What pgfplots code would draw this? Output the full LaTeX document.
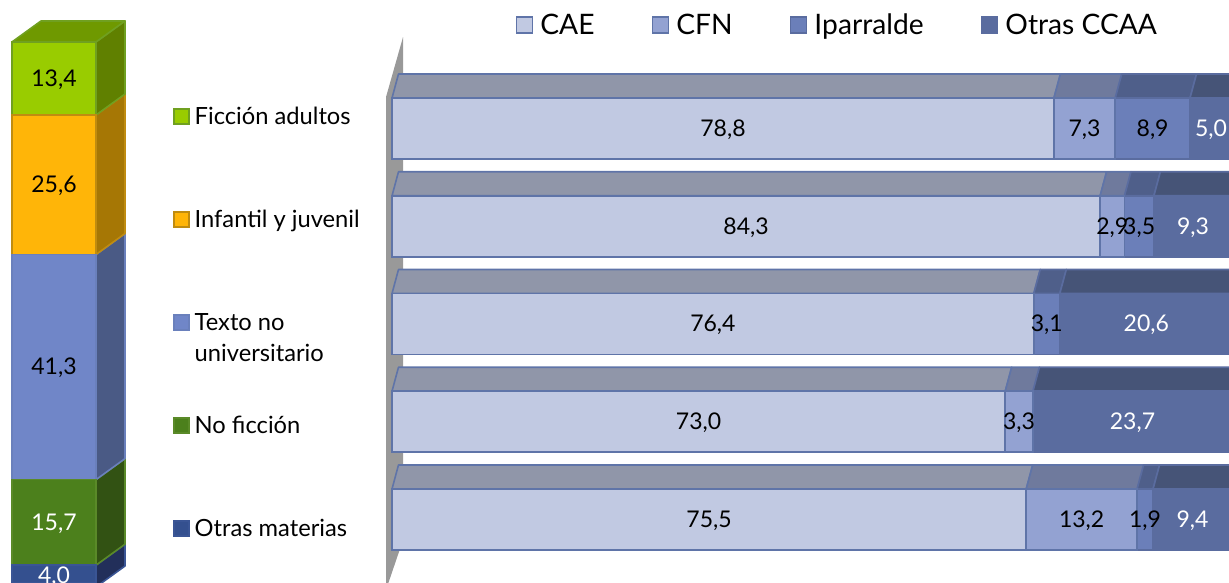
\documentclass[border=0pt]{standalone}
\usepackage{pgfplots}
\usepackage{pgfplotstable}
\usepackage{fontspec}
\pgfplotsset{compat=1.18}
\setmainfont{Lato}
% right-hand chart colours
\definecolor{caeF}{HTML}{C1C9E2}\definecolor{caeT}{HTML}{9096A9}\definecolor{caeL}{HTML}{5F74A8}
\definecolor{cfnF}{HTML}{93A2D2}\definecolor{cfnT}{HTML}{6F7A9D}\definecolor{cfnL}{HTML}{5F74A8}
\definecolor{ipaF}{HTML}{6B7FB9}\definecolor{ipaT}{HTML}{4F5F8A}\definecolor{ipaL}{HTML}{5A6C9F}
\definecolor{otrF}{HTML}{5A6C9F}\definecolor{otrT}{HTML}{465477}\definecolor{otrL}{HTML}{5A6C9F}
\definecolor{wallc}{HTML}{999999}
% left-hand chart colours
\definecolor{ficF}{HTML}{99CC00}\definecolor{ficS}{HTML}{608000}\definecolor{ficT}{HTML}{6F9900}\definecolor{ficL}{HTML}{70A020}
\definecolor{infF}{HTML}{FFB508}\definecolor{infS}{HTML}{A67705}\definecolor{infL}{HTML}{C08C10}
\definecolor{texF}{HTML}{7086C8}\definecolor{texS}{HTML}{4A5A85}\definecolor{texL}{HTML}{6A80BC}
\definecolor{nofF}{HTML}{4C801C}\definecolor{nofS}{HTML}{325213}\definecolor{nofL}{HTML}{5A8A28}
\definecolor{otmF}{HTML}{34508F}\definecolor{otmS}{HTML}{222F5A}\definecolor{otmL}{HTML}{3A5595}

\pgfplotstableread{
pos CAE CFN Ipa Otr
0 75.5 13.2 1.9 9.4
1 73.0 3.3 0 23.7
2 76.4 0 3.1 20.6
3 84.3 2.9 3.5 9.3
4 78.8 7.3 8.9 5.0
}\barsdata
\pgfplotstableread{
x y lab
39.40 4 78,8
82.45 4 7,3
90.55 4 8,9
42.15 3 84,3
85.75 3 2,9
88.95 3 3,5
38.20 2 76,4
77.95 2 3,1
36.50 1 73,0
74.65 1 3,3
37.75 0 75,5
82.10 0 13,2
89.65 0 1,9
}\barsdark
\pgfplotstableread{
x y lab
97.50 4 5,0
95.35 3 9,3
89.80 2 20,6
88.15 1 23,7
95.30 0 9,4
}\barslight
\pgfplotstableread{
x fic inf tex nof otm
54 13.4 25.6 41.3 15.7 4.0
}\coldata
\pgfplotstableread{
x y lab
54 93.3 13,4
54 73.8 25,6
54 40.35 41,3
}\coldark
\pgfplotstableread{
x y lab
54 11.85 15,7
54 2.0 4,0
}\collight

\pgfplotsset{
 frame/.style={scale only axis,width=1229pt,height=583pt,at={(0pt,0pt)},anchor=south west,hide axis,enlargelimits=false},
 rightframe/.style={frame,xmin=-46.667,xmax=99.64,ymin=-0.65,ymax=5.315},
 leftframe/.style={frame,xmin=0,xmax=1229,ymin=0.734,ymax=107.7},
 face/.style={fill=#1,line width=1.6pt,line join=round},
 sqkey/.style={legend image code/.code={\draw[##1,line width=1.8pt] (0pt,-8pt) rectangle (16pt,8pt);}},
 sqkeyup/.style={legend image code/.code={\draw[##1,line width=1.8pt] (0pt,1pt) rectangle (15pt,16pt);}},
 vals/.style={draw=none,mark=none,nodes near coords,point meta=explicit symbolic,nodes near coords align={center},
   every node near coord/.append style={inner sep=0pt,yshift=-1pt,font=\fontsize{23}{26}\selectfont,text=#1}},
}

\begin{document}
\begin{tikzpicture}[x=1pt,y=1pt]
\useasboundingbox (0pt,0pt) rectangle (1229pt,583pt);
\clip (0pt,0pt) rectangle (1229pt,583pt);

% ---------- left column: depth faces
\begin{axis}[leftframe]
\addplot[face=otmS,draw=otmL] coordinates {(96,0)(125,3.85)(125,7.85)(96,4.0)} -- cycle;
\addplot[face=nofS,draw=nofL] coordinates {(96,4.0)(125,7.85)(125,23.55)(96,19.7)} -- cycle;
\addplot[face=texS,draw=texL] coordinates {(96,19.7)(125,23.55)(125,64.85)(96,61.0)} -- cycle;
\addplot[face=infS,draw=infL] coordinates {(96,61.0)(125,64.85)(125,90.45)(96,86.6)} -- cycle;
\addplot[face=ficS,draw=ficL] coordinates {(96,86.6)(125,90.45)(125,103.85)(96,100)} -- cycle;
\addplot[face=ficT,draw=ficL] coordinates {(12,100)(96,100)(125,103.85)(41,103.85)} -- cycle;
\end{axis}

% ---------- left column: front faces and legend
\begin{axis}[leftframe,ybar stacked,bar width=84pt,sqkeyup,reverse legend,
  legend cell align=left,
  legend style={draw=none,fill=none,at={(axis description cs:0.1407,0.8139)},anchor=north west,inner sep=0pt,outer sep=0pt,
    font=\fontsize{23.7}{31}\selectfont,row sep=84.2pt,nodes={inner sep=1pt},
    /tikz/every odd column/.style={column sep=4pt}}]
\addplot[fill=otmF,draw=otmL,line width=1.6pt] table[x=x,y=otm]{\coldata};
\addlegendentry{\smash{Otras materias}}
\addplot[fill=nofF,draw=nofL,line width=1.6pt] table[x=x,y=nof]{\coldata};
\addlegendentry{\smash{No ficción}}
\addplot[fill=texF,draw=texL,line width=1.6pt] table[x=x,y=tex]{\coldata};
\addlegendentry{\smash{\parbox[t]{170pt}{Texto no\\universitario}}}
\addplot[fill=infF,draw=infL,line width=1.6pt] table[x=x,y=inf]{\coldata};
\addlegendentry{\smash{Infantil y juvenil}}
\addplot[fill=ficF,draw=ficL,line width=1.6pt] table[x=x,y=fic]{\coldata};
\addlegendentry{\smash{Ficción adultos}}
\end{axis}

% ---------- left column: value labels
\begin{axis}[leftframe,clip=false]
\addplot[vals=black] table[x=x,y=y,meta=lab]{\coldark};
\addplot[vals=white] table[x=x,y=y,meta=lab]{\collight};
\end{axis}

% ---------- right chart: wall and top faces
\begin{axis}[rightframe]
\addplot[fill=wallc,draw=none] coordinates {(-0.714,4.322)(1.31,4.936)(1.31,-0.21)(-0.714,-0.721)} -- cycle;
% Ficcion adultos
\addplot[face=caeT,draw=caeL] coordinates {(0,4.312)(78.8,4.312)(79.57,4.5575)(0.77,4.5575)} -- cycle;
\addplot[face=cfnT,draw=cfnL] coordinates {(78.8,4.312)(86.1,4.312)(86.87,4.5575)(79.57,4.5575)} -- cycle;
\addplot[face=ipaT,draw=ipaL] coordinates {(86.1,4.312)(95.0,4.312)(95.77,4.5575)(86.87,4.5575)} -- cycle;
\addplot[face=otrT,draw=otrL] coordinates {(95.0,4.312)(100,4.312)(100.77,4.5575)(95.77,4.5575)} -- cycle;
% Infantil y juvenil
\addplot[face=caeT,draw=caeL] coordinates {(0,3.312)(84.3,3.312)(85.07,3.5575)(0.77,3.5575)} -- cycle;
\addplot[face=cfnT,draw=cfnL] coordinates {(84.3,3.312)(87.2,3.312)(87.97,3.5575)(85.07,3.5575)} -- cycle;
\addplot[face=ipaT,draw=ipaL] coordinates {(87.2,3.312)(90.7,3.312)(91.47,3.5575)(87.97,3.5575)} -- cycle;
\addplot[face=otrT,draw=otrL] coordinates {(90.7,3.312)(100,3.312)(100.77,3.5575)(91.47,3.5575)} -- cycle;
% Texto no universitario
\addplot[face=caeT,draw=caeL] coordinates {(0,2.312)(76.4,2.312)(77.17,2.5575)(0.77,2.5575)} -- cycle;
\addplot[face=ipaT,draw=ipaL] coordinates {(76.4,2.312)(79.5,2.312)(80.27,2.5575)(77.17,2.5575)} -- cycle;
\addplot[face=otrT,draw=otrL] coordinates {(79.5,2.312)(100.1,2.312)(100.87,2.5575)(80.27,2.5575)} -- cycle;
% No ficcion
\addplot[face=caeT,draw=caeL] coordinates {(0,1.312)(73.0,1.312)(73.77,1.5575)(0.77,1.5575)} -- cycle;
\addplot[face=cfnT,draw=cfnL] coordinates {(73.0,1.312)(76.3,1.312)(77.07,1.5575)(73.77,1.5575)} -- cycle;
\addplot[face=otrT,draw=otrL] coordinates {(76.3,1.312)(100,1.312)(100.77,1.5575)(77.07,1.5575)} -- cycle;
% Otras materias
\addplot[face=caeT,draw=caeL] coordinates {(0,0.312)(75.5,0.312)(76.27,0.5575)(0.77,0.5575)} -- cycle;
\addplot[face=cfnT,draw=cfnL] coordinates {(75.5,0.312)(88.7,0.312)(89.47,0.5575)(76.27,0.5575)} -- cycle;
\addplot[face=ipaT,draw=ipaL] coordinates {(88.7,0.312)(90.6,0.312)(91.37,0.5575)(89.47,0.5575)} -- cycle;
\addplot[face=otrT,draw=otrL] coordinates {(90.6,0.312)(100,0.312)(100.77,0.5575)(91.37,0.5575)} -- cycle;
\end{axis}

% ---------- right chart: front faces and legend
\begin{axis}[rightframe,xbar stacked,bar width=61pt,sqkey,legend columns=4,
  legend style={draw=none,fill=none,at={(axis description cs:0.4195,0.957)},anchor=west,inner sep=0pt,outer sep=0pt,
    font=\fontsize{28.2}{30}\selectfont,/tikz/every even column/.style={column sep=56pt},
    /tikz/every odd column/.style={column sep=6pt},nodes={inner sep=1pt}}]
\addplot[fill=caeF,draw=caeL,line width=1.6pt] table[x=CAE,y=pos]{\barsdata};
\addlegendentry{CAE}
\addplot[fill=cfnF,draw=cfnL,line width=1.6pt] table[x=CFN,y=pos]{\barsdata};
\addlegendentry{CFN}
\addplot[fill=ipaF,draw=ipaL,line width=1.6pt] table[x=Ipa,y=pos]{\barsdata};
\addlegendentry{Iparralde}
\addplot[fill=otrF,draw=otrL,line width=1.6pt] table[x=Otr,y=pos]{\barsdata};
\addlegendentry{Otras CCAA}
\end{axis}

% ---------- right chart: value labels
\begin{axis}[rightframe,clip=false]
\addplot[vals=black] table[x=x,y=y,meta=lab]{\barsdark};
\addplot[vals=white] table[x=x,y=y,meta=lab]{\barslight};
\end{axis}
\end{tikzpicture}
\end{document}
